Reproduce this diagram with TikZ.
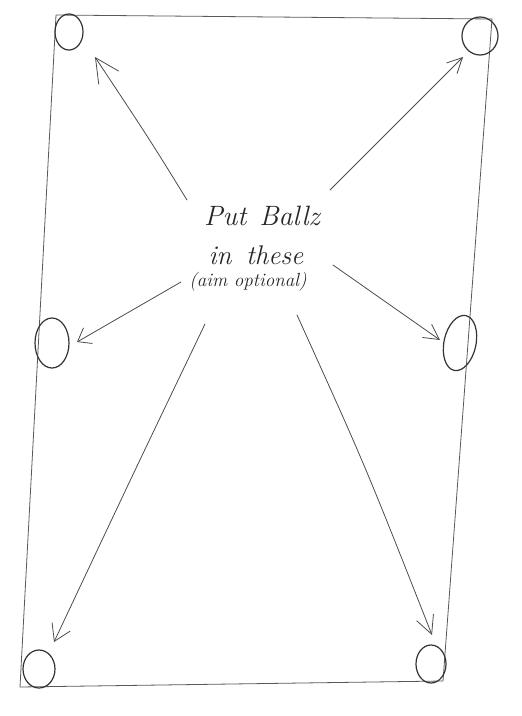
\documentclass[tikz,border=0pt]{standalone}
\usetikzlibrary{arrows.meta,shapes.geometric}
\begin{document}
\begin{tikzpicture}[x=1pt,y=-1pt,
  table/.style={draw=black!65,line width=0.8pt,line cap=round,line join=round},
  pocket/.style={draw=black!80,line width=1.2pt,ellipse,inner sep=0pt,outer sep=0pt},
  pointer/.style={draw=black!70,line width=0.8pt,line cap=round},
  handtext/.style={text=black!85,inner sep=0pt,font=\itshape}]
\useasboundingbox (0,0) rectangle (522,716);
% table corners
\coordinate (tl) at (56,15);
\coordinate (tr) at (492,19);
\coordinate (br) at (443,681);
\coordinate (bl) at (20,687);
\draw[table] (tl) -- (tr) -- (br) -- (bl) -- cycle;
% pockets
\node[pocket,minimum width=28pt,minimum height=36pt] (p1) at (69,32) {};
\node[pocket,minimum width=36pt,minimum height=38pt] (p2) at (480,36) {};
\node[pocket,minimum width=34pt,minimum height=50pt] (p3) at (52,343) {};
\node[pocket,minimum width=32pt,minimum height=56pt,rotate=-12] (p4) at (460,343) {};
\node[pocket,minimum width=32pt,minimum height=38pt] (p5) at (39,669) {};
\node[pocket,minimum width=30pt,minimum height=38pt] (p6) at (431,664) {};
% text
\node[handtext,font=\itshape\fontsize{28}{30}\selectfont] (l1) at (262,216) {Put \kern3pt Ballz};
\node[handtext,font=\itshape\fontsize{27}{30}\selectfont] (l2) at (256,255) {in \kern5pt these};
\node[handtext,font=\itshape\fontsize{19}{22}\selectfont] (l3) at (248,282) {(aim optional)};
% arrow tails and tips
\coordinate (t1) at (187,200); \coordinate (h1) at (95,57);
\coordinate (t2) at (330,190); \coordinate (h2) at (463,57);
\coordinate (t3) at (181,282); \coordinate (h3) at (77,342);
\coordinate (t4) at (333,265); \coordinate (h4) at (440,340);
\coordinate (t5) at (205,324); \coordinate (h5) at (54,642);
\coordinate (t6) at (297,315); \coordinate (h6) at (432,635);
\draw[pointer,-{Straight Barb[length=24pt,width=24pt]}] (t1) .. controls (150,140) .. (h1);
\draw[pointer,-{Straight Barb[length=15pt,width=15pt]}] (t2) -- (h2);
\draw[pointer,-{Straight Barb[length=12pt,width=18pt]}] (t3) -- (h3);
\draw[pointer,-{Straight Barb[length=15pt,width=16pt]}] (t4) -- (h4);
\draw[pointer,-{Straight Barb[length=16pt,width=20pt]}] (t5) .. controls (135,470) .. (h5);
\draw[pointer,-{Straight Barb[length=18pt,width=18pt]}] (t6) .. controls (365,465) .. (h6);
\end{tikzpicture}
\end{document}
